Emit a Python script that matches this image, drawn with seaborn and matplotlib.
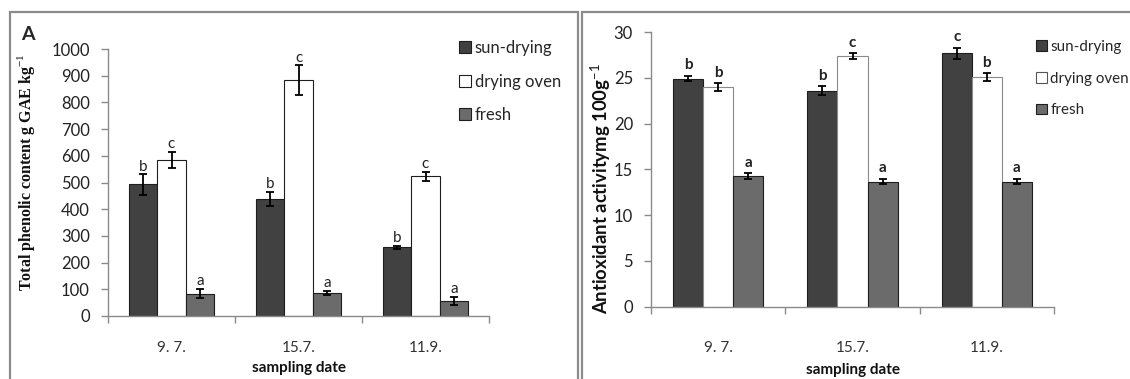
import numpy as np
import pandas as pd
import matplotlib
matplotlib.use("Agg")
import matplotlib.pyplot as plt
from matplotlib.patches import Rectangle, Patch
import seaborn as sns

# ---------------- data ----------------
dates = ["9. 7.", "15.7.", "11.9."]
treatments = ["sun-drying", "drying oven", "fresh"]

phenolic_sun = [493, 438, 257]
phenolic_oven = [585, 884, 523]
phenolic_fresh = [84, 86, 56]
phenolic_sun_err = [38, 27, 5]
phenolic_oven_err = [30, 55, 17]
phenolic_fresh_err = [18, 9, 16]
phenolic_sun_letters = ["b", "b", "b"]
phenolic_oven_letters = ["c", "c", "c"]
phenolic_fresh_letters = ["a", "a", "a"]

antiox_sun = [24.9, 23.6, 27.7]
antiox_oven = [24.0, 27.4, 25.1]
antiox_fresh = [14.3, 13.65, 13.65]
antiox_sun_err = [0.3, 0.5, 0.6]
antiox_oven_err = [0.4, 0.3, 0.4]
antiox_fresh_err = [0.3, 0.3, 0.3]
antiox_sun_letters = ["b", "b", "c"]
antiox_oven_letters = ["b", "c", "b"]
antiox_fresh_letters = ["a", "a", "a"]

phenolic_ticks = [0, 100, 200, 300, 400, 500, 600, 700, 800, 900, 1000]
antiox_ticks = [0, 5, 10, 15, 20, 25, 30]

# ---------------- style ----------------
sns.set_style("white")
plt.rcParams["font.family"] = ["Lato", "DejaVu Sans"]
plt.rcParams["mathtext.fontset"] = "custom"
plt.rcParams["mathtext.rm"] = "Liberation Serif"
plt.rcParams["mathtext.bf"] = "Liberation Serif:bold"
plt.rcParams["mathtext.sf"] = "Lato"

SUN = "#414141"
FRESH = "#6b6b6b"
AXC = "#8a8a8a"

fig = plt.figure(figsize=(11.30, 3.79), dpi=100)

# panel frames
fig.patches.append(Rectangle((10 / 1130, -0.2), (578 - 10) / 1130, 1.2 - 12 / 379,
                             transform=fig.transFigure, fill=False,
                             edgecolor="#8c8c8c", linewidth=1.6, zorder=0))
fig.patches.append(Rectangle((582 / 1130, -0.2), 0.6, 1.2 - 12 / 379,
                             transform=fig.transFigure, fill=False,
                             edgecolor="#8c8c8c", linewidth=1.6, zorder=0))

ax1 = fig.add_axes([108 / 1130, 1 - 316 / 379, (489 - 108) / 1130, (316 - 49) / 379])
ax2 = fig.add_axes([651 / 1130, 1 - 306.7 / 379, (1054 - 651) / 1130, (306.7 - 32) / 379])


def make_df(sun, oven, fresh):
    rows = []
    for vals, t in zip([sun, oven, fresh], treatments):
        for d, v in zip(dates, vals):
            rows.append({"date": d, "treatment": t, "value": v})
    return pd.DataFrame(rows)


def draw(ax, sun, oven, fresh, errs, letters, oven_edge, bold_letters, ylim, ticks,
         letter_pad, xpad):
    df = make_df(sun, oven, fresh)
    sns.barplot(data=df, x="date", y="value", hue="treatment", order=dates,
                hue_order=treatments, palette=[SUN, "white", FRESH],
                width=0.67, gap=0, errorbar=None, legend=False, ax=ax,
                edgecolor="#1e1e1e", linewidth=0.8, saturation=1)
    bar_containers = list(ax.containers)
    for i, cont in enumerate(bar_containers):
        for j, bar in enumerate(list(cont)):
            if i == 1:
                bar.set_edgecolor(oven_edge)
            x = bar.get_x() + bar.get_width() / 2
            h = bar.get_height()
            e = errs[i][j]
            ax.errorbar(x, h, yerr=e, color="black", capsize=3, elinewidth=1.3,
                        capthick=1.3, fmt="none", zorder=5)
            ax.annotate(letters[i][j], (x, h + e), xytext=(0, letter_pad),
                        textcoords="offset points", ha="center", va="bottom",
                        fontsize=11, fontweight="bold" if bold_letters else "normal",
                        color="#222222")
    ax.set_ylim(*ylim)
    ax.set_yticks(ticks)
    ax.set_xlim(-0.5, 2.5)
    ax.set_xticks([0, 1, 2])
    ax.set_xticklabels(dates)
    ax.set_xticks([-0.5, 0.5, 1.5, 2.5], minor=True)
    ax.tick_params(axis="x", which="major", length=0, pad=xpad, labelsize=11, colors="#333333")
    ax.tick_params(axis="x", which="minor", length=5, width=1, color=AXC, direction="out", bottom=True)
    ax.tick_params(axis="y", length=5, width=1, color=AXC, direction="out", left=True,
                   labelsize=12, pad=8, labelcolor="#222222")
    for s in ["top", "right"]:
        ax.spines[s].set_visible(False)
    for s in ["left", "bottom"]:
        ax.spines[s].set_color(AXC)
        ax.spines[s].set_linewidth(1)
    ax.set_facecolor("none")


draw(ax1, phenolic_sun, phenolic_oven, phenolic_fresh,
     [phenolic_sun_err, phenolic_oven_err, phenolic_fresh_err],
     [phenolic_sun_letters, phenolic_oven_letters, phenolic_fresh_letters],
     "#1e1e1e", False, (0, 1000), phenolic_ticks, 0.5, 18)
draw(ax2, antiox_sun, antiox_oven, antiox_fresh,
     [antiox_sun_err, antiox_oven_err, antiox_fresh_err],
     [antiox_sun_letters, antiox_oven_letters, antiox_fresh_letters],
     "#8a8a8a", True, (0, 30), antiox_ticks, 2.5, 24.5)

ax1.set_xlabel("sampling date", fontsize=11, fontweight="bold", labelpad=4, color="#111111")
ax2.set_xlabel("sampling date", fontsize=11, fontweight="bold", labelpad=6, color="#111111")
ax1.set_ylabel("Total phenolic content g GAE kg$^{\\mathrm{-1}}$", family="Liberation Serif",
               fontsize=11.5, fontweight="bold", color="#111111")
ax2.set_ylabel("Antioxidant activitymg 100g$^{\\mathsf{-1}}$", fontsize=13.3,
               fontweight="bold", color="#111111")
ax1.yaxis.set_label_coords((37 - 108) / 381, 0.54)
ax2.yaxis.set_label_coords((613 - 651) / 403, 0.43)

fig.text(21 / 1130, 1 - 34 / 379, "A", fontsize=14, fontweight="bold", va="center", ha="left")

# legends
h1 = [Patch(facecolor=SUN, edgecolor="#1e1e1e", linewidth=0.8),
      Patch(facecolor="white", edgecolor="#1e1e1e", linewidth=0.8),
      Patch(facecolor=FRESH, edgecolor="#1e1e1e", linewidth=0.8)]
h2 = [Patch(facecolor=SUN, edgecolor="#1e1e1e", linewidth=0.8),
      Patch(facecolor="white", edgecolor="#555555", linewidth=0.8),
      Patch(facecolor=FRESH, edgecolor="#1e1e1e", linewidth=0.8)]
for ax, h, x0, fs in [(ax1, h1, 459 / 1130, 12), (ax2, h2, 1036 / 1130, 10.9)]:
    ax.legend(h, treatments, loc="upper left", bbox_to_anchor=(x0, 1 - 40 / 379),
              bbox_transform=fig.transFigure, frameon=False, fontsize=fs,
              handlelength=0.7, handleheight=0.7, handletextpad=0.25,
              labelspacing=1.16 if fs < 12 else 1.05, borderpad=0, borderaxespad=0)

fig.savefig("out.png", dpi=100)
